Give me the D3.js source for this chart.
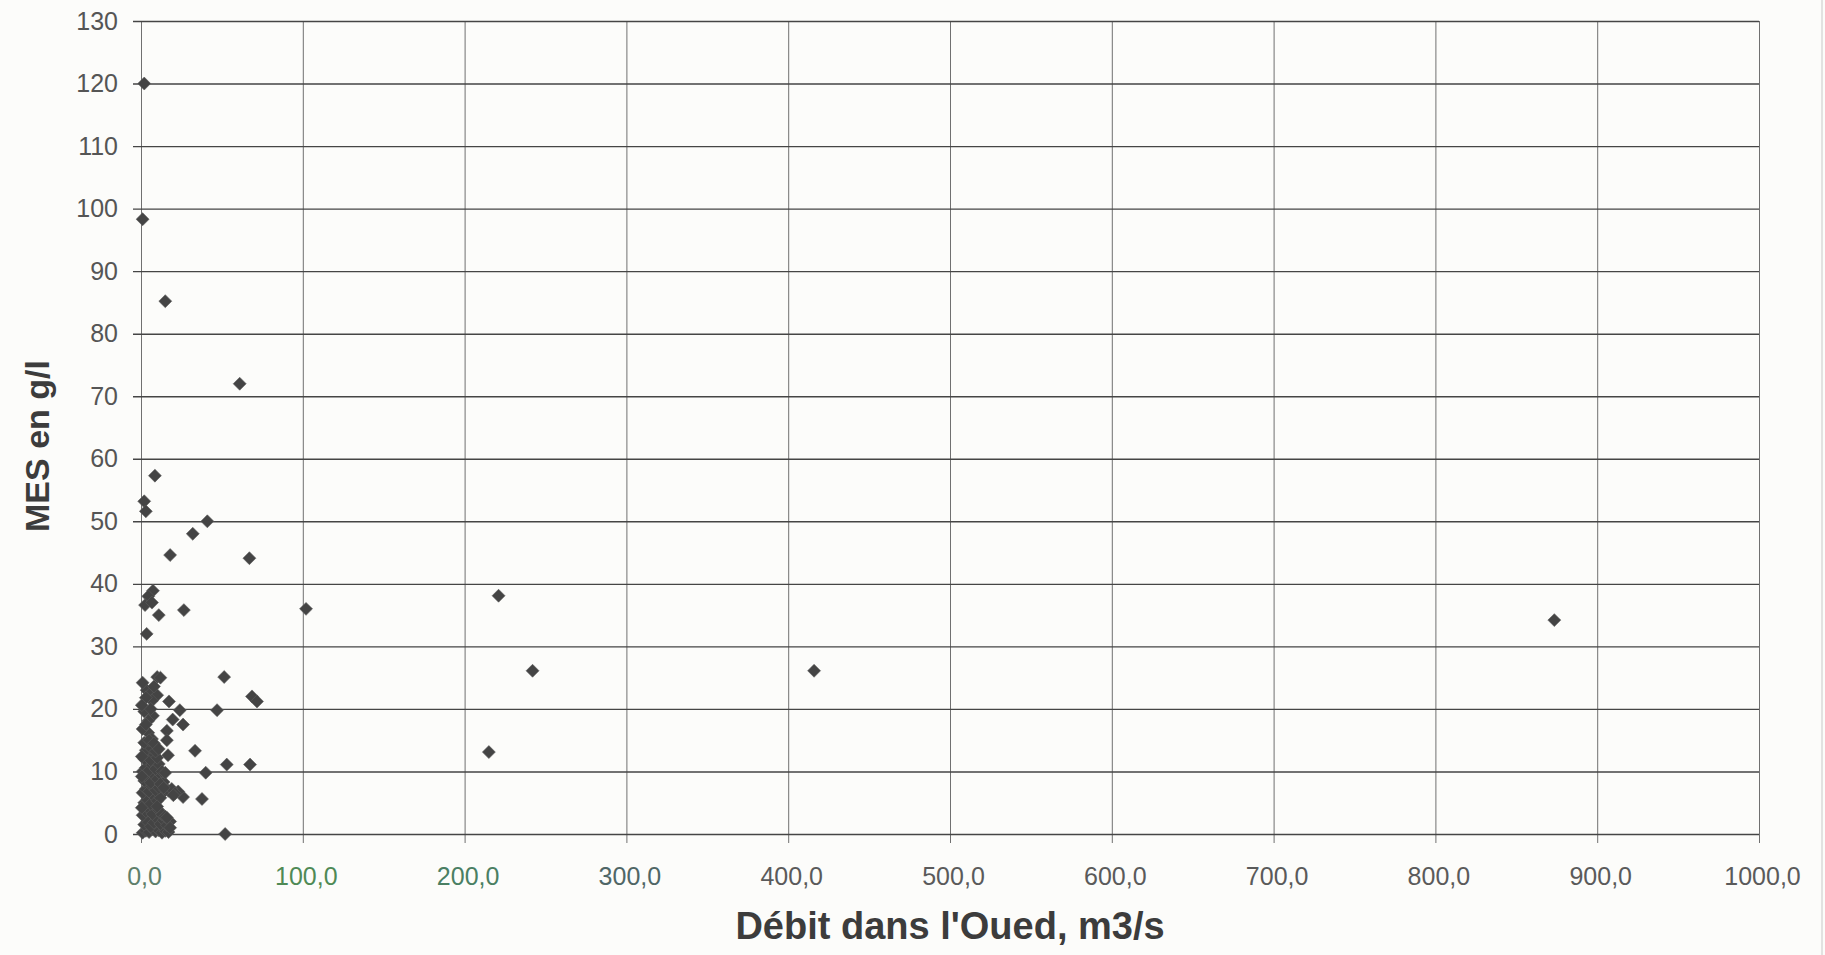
<!DOCTYPE html>
<html>
<head>
<meta charset="utf-8">
<script src="https://cdn.jsdelivr.net/npm/d3@7"></script>
<style>
  body { margin: 0; background: #fcfcfa; }
  svg { display: block; font-family: "Liberation Sans", Arial, sans-serif; }
</style>
</head>
<body>
<div id="chart"></div>
<script>
// --- values (débit m3/s, MES g/l) ---
var debit = [
  2, 1, 15, 61, 8.6, 2, 3, 41, 32, 18, 67,
  7.4, 4.5, 2.5, 6.8, 11, 26.5, 102, 3.5,
  10, 12, 51.4, 3.5, 6, 10, 6.8, 17.3, 24, 47, 68.6, 71.7,
  7.4, 4.5, 19.6, 26, 4.5, 16, 6.8, 16, 33.4, 4.5,
  16.7, 53, 67.4, 40, 37.7, 26, 23, 52,
  221, 242, 416, 215, 873.5,
  // dense cluster near the origin
  1, 3, 5, 7, 9, 11, 13, 15, 17,
  2, 4, 6, 8, 10, 12, 14, 16, 18,
  1, 3, 5, 7, 9, 11, 13, 15,
  2, 4, 6, 8, 10, 12,
  1, 3, 5, 7, 9, 11, 13, 15, 17, 19, 21,
  2, 4, 6, 8, 10, 12, 14,
  1, 3, 5, 7, 9, 11, 13, 15,
  2, 4, 6, 8, 10, 3, 6, 9, 2, 5, 8, 11,
  1, 3, 2, 6, 3, 8, 1,
  0.5, 0.5, 0.5, 0.5, 12, 14, 16, 10, 18, 20
];
var mes = [
  120, 98.3, 85.2, 72, 57.3, 53.2, 51.6, 50, 48, 44.6, 44.1,
  38.9, 38, 36.6, 37, 35, 35.8, 36, 32,
  25.1, 25, 25.1, 23, 22.5, 22.2, 21.3, 21.2, 19.8, 19.8, 22, 21.2,
  18.9, 18.1, 18.3, 17.5, 16.2, 16.5, 15.2, 15, 13.3, 14,
  12.6, 11.1, 11.1, 9.8, 5.6, 5.9, 6.8, 0,
  38.1, 26.1, 26.1, 13.1, 34.2,
  // dense cluster near the origin
  0.2, 0.5, 0.3, 0.8, 0.4, 0.6, 0.2, 0.5, 0.3,
  1.5, 2, 1.2, 1.8, 2.4, 1.6, 2.2, 1.4, 2.0,
  3, 3.6, 4, 3.2, 4.4, 3.8, 3.1, 2.8,
  5, 5.5, 4.8, 6, 5.3, 5.8,
  6.6, 7.2, 6.8, 7.6, 7, 7.4, 7.8, 7, 6.9, 7.2, 6.5,
  8.5, 9, 8.2, 9.4, 8.8, 9.6, 8.3,
  10, 10.6, 10.2, 11, 10.4, 11.2, 10, 9.8,
  12, 12.5, 11.8, 12.8, 12.2, 13.4, 13.8, 13.2, 14.6, 15, 14.5, 13.6,
  16.8, 17.5, 19.6, 20, 21.8, 23.6, 24.2,
  4.2, 9.2, 12.4, 20.6, 8, 7.4, 2.6, 4.4, 1, 6.2
];

var xTicks = [0, 100, 200, 300, 400, 500, 600, 700, 800, 900, 1000];
var yTicks = [0, 10, 20, 30, 40, 50, 60, 70, 80, 90, 100, 110, 120, 130];

var xTitle = "Débit dans l'Oued, m3/s";
var yTitle = "MES en g/l";

// --- French number format: 100,0 ---
var frFormat = d3.formatLocale({
  decimal: ",",
  thousands: "",
  grouping: [3],
  currency: ["", ""]
}).format(".1f");

// --- Excel style square diamond marker ---
var squareDiamond = {
  draw: function (ctx, size) {
    var r = Math.sqrt(size / 2);
    ctx.moveTo(0, -r);
    ctx.lineTo(r, 0);
    ctx.lineTo(0, r);
    ctx.lineTo(-r, 0);
    ctx.closePath();
  }
};

var W = 1825, H = 955;
// (window.top is read only, so no `top` here)
var plotLeft = 141, plotRight = 1759, plotTop = 21, plotBottom = 834;

var svg = d3.select("#chart")
  .append("svg")
  .attr("width", W)
  .attr("height", H);

var x = d3.scaleLinear().domain([0, 1000]).range([plotLeft, plotRight]);
var y = d3.scaleLinear().domain([0, 130]).range([plotBottom, plotTop]);

// scan page edge on the right
svg.append("line")
  .attr("x1", 1822).attr("x2", 1822)
  .attr("y1", 0).attr("y2", H)
  .attr("stroke", "#c8c8c8")
  .attr("stroke-width", 1);

// --- vertical grid + x ticks ---
var xAxis = svg.append("g")
  .attr("transform", "translate(0," + plotBottom + ")")
  .call(d3.axisBottom(x)
    .tickValues(xTicks)
    .tickSizeOuter(0)
    .tickFormat(frFormat));
xAxis.select(".domain").remove();
xAxis.selectAll(".tick line")
  .attr("y1", -(plotBottom - plotTop))
  .attr("y2", 9)
  .attr("stroke", "#707070")
  .attr("stroke-width", 1);
xAxis.selectAll(".tick text")
  .attr("y", 51)
  .attr("dy", null)
  .attr("dx", 3)
  .attr("font-size", "25px")
  .attr("font-family", "Liberation Sans, Arial, sans-serif")
  .attr("fill", function (d, i) {
    // the scan tints the first labels green
    if (i == 0) return "#5e7f6a";
    if (i == 1) return "#4f8a55";
    if (i == 2) return "#4a7f63";
    if (i == 3) return "#4f6666";
    return "#5a5a5a";
  });

// --- horizontal grid + y ticks ---
var yAxis = svg.append("g")
  .attr("transform", "translate(" + plotLeft + ",0)")
  .call(d3.axisLeft(y)
    .tickValues(yTicks)
    .tickSizeOuter(0)
    .tickFormat(d3.format("d")));
yAxis.select(".domain").remove();
yAxis.selectAll(".tick line")
  .attr("x1", plotRight - plotLeft)
  .attr("x2", -8)
  .attr("stroke", "#454545")
  .attr("stroke-width", 1.4);
yAxis.selectAll(".tick text")
  .attr("x", -23)
  .attr("font-size", "25px")
  .attr("font-family", "Liberation Sans, Arial, sans-serif")
  .attr("fill", "#555");

// --- points ---
var points = debit.map(function (d, i) {
  return { debit: d, mes: mes[i] };
});

svg.append("g")
  .selectAll("path")
  .data(points)
  .enter()
  .append("path")
  .attr("d", d3.symbol().type(squareDiamond).size(84))
  .attr("transform", function (d) {
    return "translate(" + x(d.debit) + "," + y(d.mes) + ")";
  })
  .attr("fill", "#444")
  .attr("stroke", "#5c5c5c")
  .attr("stroke-width", 0.6);

// --- axis titles ---
svg.append("text")
  .attr("x", (plotLeft + plotRight) / 2)
  .attr("y", 939)
  .attr("text-anchor", "middle")
  .attr("font-size", "38px")
  .attr("font-weight", "bold")
  .attr("fill", "#3c3c3c")
  .text(xTitle);

svg.append("text")
  .attr("transform", "translate(49,446) rotate(-90)")
  .attr("text-anchor", "middle")
  .attr("font-size", "34px")
  .attr("font-weight", "bold")
  .attr("fill", "#3c3c3c")
  .text(yTitle);
</script>
</body>
</html>
